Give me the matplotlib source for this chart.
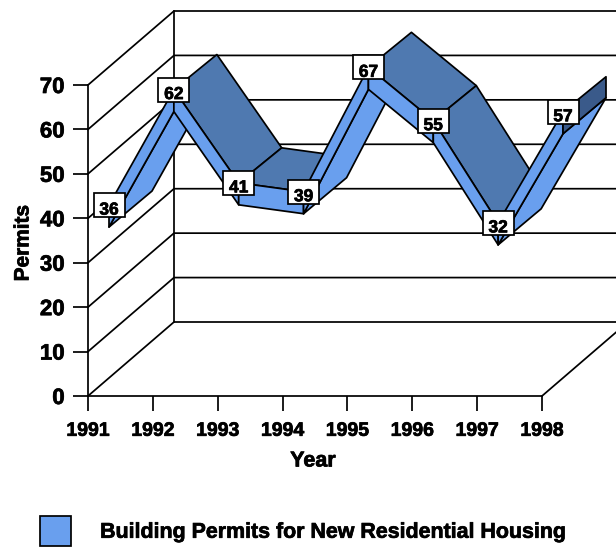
import matplotlib
matplotlib.use('Agg')
import matplotlib.pyplot as plt
import matplotlib.patheffects as pe
from matplotlib.patches import Patch, Polygon, Rectangle

years = ['1991', '1992', '1993', '1994', '1995', '1996', '1997', '1998']
permits = [36, 62, 41, 39, 67, 55, 32, 57]
y_ticks = [0, 10, 20, 30, 40, 50, 60, 70]
series_name = 'Building Permits for New Residential Housing'

LIGHT = '#699fee'
DARK = '#4f79b0'
END = '#3a5a8a'
LW = 1.25

plt.rcParams['font.family'] = ['Liberation Sans', 'DejaVu Sans']
plt.rcParams['font.weight'] = 'bold'

fig = plt.figure(figsize=(6.16, 5.48), dpi=100)
ax = fig.add_axes([88 / 616, 1 - 396 / 548, 454 / 616, 311 / 548])
ax.set_xlim(0, 7)
ax.set_ylim(0, 70)
ax.patch.set_alpha(0)

# pixel sizes of one category and one permit, depth offsets are given in pixels
px_x = 454 / 7
px_y = 311 / 70
heavy = [pe.withStroke(linewidth=0.5, foreground='black')]


def pt(i, v, dx, dy):
    return (i + dx / px_x, v + dy / px_y)


def face(points, color):
    ax.add_patch(Polygon(points, closed=True, facecolor=color, edgecolor='black',
                         linewidth=LW, joinstyle='round', clip_on=False, zorder=3))


# walls and floor
wall_dx, wall_dy = 86, 74
for v in y_ticks:
    a = pt(0, v, 0, 0)
    b = pt(0, v, wall_dx, wall_dy)
    c = pt(9, v, wall_dx, wall_dy)
    ax.plot([a[0], b[0], c[0]], [a[1], b[1], c[1]], color='black', lw=LW,
            clip_on=False, zorder=1)
a = pt(0, 0, wall_dx, wall_dy)
b = pt(0, 70, wall_dx, wall_dy)
ax.plot([a[0], b[0]], [a[1], b[1]], color='black', lw=LW, clip_on=False, zorder=1)
a = pt(7, 0, 0, 0)
b = pt(7, 0, wall_dx, wall_dy)
ax.plot([a[0], b[0]], [a[1], b[1]], color='black', lw=LW, clip_on=False, zorder=1)

# ribbon corners relative to each point
front_top = (21, 31)
front_bot = (21, 9)
back_top = (64, 66)
back_bot = (64, 45)

for i in range(len(permits) - 1):
    v0, v1 = permits[i], permits[i + 1]
    if v1 > v0:
        face([pt(i, v0, *front_bot), pt(i + 1, v1, *front_bot),
              pt(i + 1, v1, *back_bot), pt(i, v0, *back_bot)], LIGHT)
    else:
        face([pt(i, v0, *front_top), pt(i, v0, *back_top),
              pt(i + 1, v1, *back_top), pt(i + 1, v1, *front_top)], DARK)
    face([pt(i, v0, *front_top), pt(i + 1, v1, *front_top),
          pt(i + 1, v1, *front_bot), pt(i, v0, *front_bot)], LIGHT)

last = len(permits) - 1
face([pt(last, permits[-1], *front_top), pt(last, permits[-1], *back_top),
      pt(last, permits[-1], *back_bot), pt(last, permits[-1], *front_bot)], END)

# value labels
box_w, box_h = 31, 24
for i, v in enumerate(permits):
    cx, cy = pt(i, v, *front_top)
    ax.add_patch(Rectangle((cx - box_w / 2 / px_x, cy - box_h / 2 / px_y),
                           box_w / px_x, box_h / px_y, facecolor='white',
                           edgecolor='black', linewidth=LW, clip_on=False, zorder=4))
    ax.text(cx, cy - 5 / px_y, str(v), ha='center', va='center', fontsize=12.5,
            fontweight='bold', color='black', zorder=5, path_effects=heavy)

ax.set_xticks(range(len(years)))
ax.set_xticklabels(years)
ax.set_yticks(y_ticks)
ax.tick_params(axis='both', length=10.8, width=LW)
ax.tick_params(axis='x', pad=8.5, labelsize=14)
ax.tick_params(axis='y', pad=6, labelsize=16)
for label in ax.get_xticklabels() + ax.get_yticklabels():
    label.set_path_effects(heavy)
for s in ['top', 'right']:
    ax.spines[s].set_visible(False)
for s in ['left', 'bottom']:
    ax.spines[s].set_linewidth(LW)

fig.text(313 / 616, 1 - 461 / 548, 'Year', ha='center', va='center', fontsize=15.5,
         path_effects=heavy)
fig.text(23 / 616, 1 - 243 / 548, 'Permits', ha='center', va='center',
         rotation=90, fontsize=15, path_effects=heavy)

handle = Patch(facecolor=LIGHT, edgecolor='black', linewidth=LW, label=series_name)
leg = fig.legend(handles=[handle], loc='lower left', bbox_to_anchor=(40 / 616, 2 / 548),
                 bbox_transform=fig.transFigure, frameon=False, fontsize=15.4,
                 borderpad=0, borderaxespad=0, handlelength=1.45, handleheight=1.8,
                 handletextpad=1.36)
for t in leg.get_texts():
    t.set_path_effects(heavy)

fig.savefig('out.png', dpi=100)
